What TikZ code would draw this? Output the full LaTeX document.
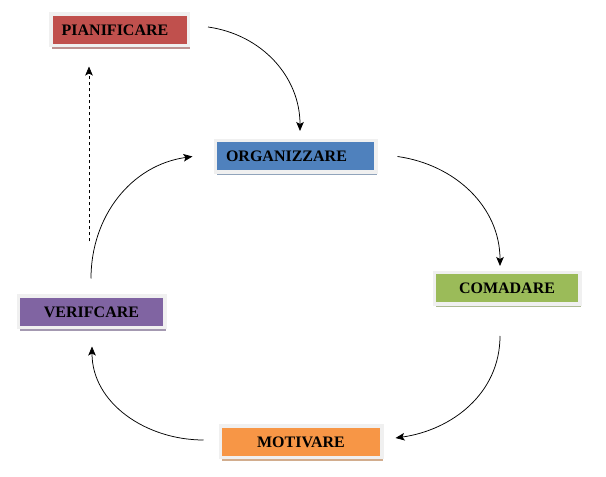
\documentclass[tikz,border=0pt]{standalone}
\usepackage{fontspec}
\setmainfont{Liberation Serif}
\usetikzlibrary{arrows.meta,shadows}
\definecolor{planred}{HTML}{C0504D}
\definecolor{orgblue}{HTML}{4F81BD}
\definecolor{comgreen}{HTML}{9BBB59}
\definecolor{verpurple}{HTML}{8064A2}
\definecolor{motorange}{HTML}{F79646}
\colorlet{framegray}{black!6}

\begin{document}
\begin{tikzpicture}[x=1pt,y=1pt,
    stage/.style={fill=#1, draw=framegray, line width=3.5pt, minimum height=31.5pt,
        inner sep=2pt, font=\fontsize{16}{18}\selectfont\bfseries,
        drop shadow={shadow xshift=1.5pt, shadow yshift=-3.2pt, fill=#1!70!black, opacity=0.55}},
    flow/.style={line width=0.75pt, -{Stealth[length=9pt,width=7.5pt,inset=2pt]}}]
        \useasboundingbox (0,0) rectangle (606,477);
        \node[stage=planred, minimum width=137.5pt] (pian) at (119.5,447) {\hspace*{-9pt}PIANIFICARE};
        \node[stage=orgblue, minimum width=160.5pt] (org) at (295.5,320.5) {\hspace*{-18pt}ORGANIZZARE};
        \node[stage=comgreen, minimum width=145.5pt] (com) at (507,188.5) {COMADARE};
        \node[stage=verpurple, minimum width=146.5pt] (ver) at (91.5,165) {VERIFCARE};
        \node[stage=motorange, minimum width=161.5pt] (mot) at (301,35) {MOTIVARE};
        % cycle
        \draw[flow] ([shift={(18,3)}]pian.east) to[out=-8, in=90] ([shift={(4.5,8)}]org.north);
        \draw[flow] ([shift={(20,0)}]org.east) to[out=-8, in=90] ([shift={(-7,5)}]com.north);
        \draw[flow] ([shift={(-7,-30)}]com.south) to[out=-90, in=8] ([shift={(12,4)}]mot.east);
        \draw[flow] ([shift={(-15,2)}]mot.west) to[out=180, in=-90] ([shift={(0.5,-17)}]ver.south);
        \draw[flow] ([shift={(-0.5,16)}]ver.north) to[out=90, in=188] ([shift={(-21,0)}]org.west);
        \draw[flow, dashed] ([shift={(-2.5,53)}]ver.north) -- ([shift={(-30.5,-19)}]pian.south);
    \end{tikzpicture}
\end{document}
